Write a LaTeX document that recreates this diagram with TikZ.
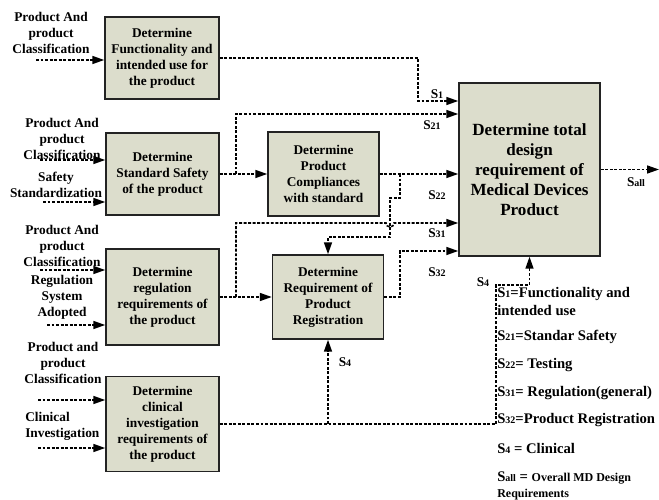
\documentclass[tikz,border=0pt]{standalone}
\usepackage{fontspec}
\setmainfont{Liberation Serif}
\usetikzlibrary{arrows.meta}
\definecolor{boxfill}{RGB}{220,221,204}
\definecolor{boxline}{RGB}{35,35,35}
\newcommand\sbs[1]{{\fontsize{7.5}{8}\selectfont #1}}
\begin{document}
\begin{tikzpicture}[x=0.75pt,y=-0.75pt,
  box/.style={draw=boxline, fill=boxfill, line width=1.1pt, align=center, inner sep=0pt,
    font=\bfseries\fontsize{10}{12}\selectfont},
  conn/.style={line width=1.2pt, dash pattern=on 2.2pt off 1.2pt},
  arr/.style={conn, -{Triangle[length=9pt,width=6pt]}},
  lbl/.style={align=center, inner sep=0pt, font=\bfseries\fontsize{10}{12}\selectfont},
  slbl/.style={inner sep=0pt, font=\bfseries\fontsize{10}{12}\selectfont},
  leg/.style={anchor=west, align=left, inner sep=0pt, font=\bfseries\fontsize{11}{13}\selectfont}]
\useasboundingbox (0,0) rectangle (659,499);

% boxes
\node[box, minimum width=85.5pt, minimum height=61.5pt] (A) at (162,58) {Determine\\Functionality and\\intended use for\\the product};
\node[box, minimum width=84.75pt, minimum height=61.5pt] (B) at (162.5,174) {Determine\\Standard Safety\\of the product};
\node[box, minimum width=83.25pt, minimum height=63pt] (C) at (323.5,174) {Determine\\Product\\Compliances\\with standard};
\node[box, minimum width=84.75pt, minimum height=72pt] (D) at (162.5,297) {Determine\\regulation\\requirements of\\the product};
\node[box, minimum width=83.25pt, minimum height=63pt] (E) at (328,297) {Determine\\Requirement of\\Product\\Registration};
\node[box, minimum width=84.75pt, minimum height=71.25pt] (F) at (162.5,424) {Determine\\clinical\\investigation\\requirements of\\the product};
\node[box, minimum width=105.75pt, minimum height=129.75pt, font=\bfseries\fontsize{12.8}{15}\selectfont] (G) at (529.5,169.5) {Determine total\\design\\requirement of\\Medical Devices\\Product};

% input labels and arrows
\node[lbl] (l1) at (51,33) {Product And\\product\\Classification};
\coordinate (i1) at (36,60);
\draw[arr] (i1) -- (A.west |- i1);

\node[lbl] (l2) at (62,139) {Product And\\product\\Classification};
\coordinate (i2) at (40,160);
\draw[arr] (i2) -- (B.west |- i2);
\node[lbl] (l3) at (56,185) {Safety\\Standardization};
\coordinate (i3) at (43,202);
\draw[arr] (i3) -- (B.west |- i3);

\node[lbl] (l4) at (62,246) {Product And\\product\\Classification};
\coordinate (i4) at (40,270);
\draw[arr] (i4) -- (D.west |- i4);
\node[lbl] (l5) at (62,297) {Regulation\\System\\Adopted};
\coordinate (i5) at (47,325);
\draw[arr] (i5) -- (D.west |- i5);

\node[lbl] (l6) at (63,363) {Product and\\product\\Classification};
\coordinate (i6) at (38,400);
\draw[arr] (i6) -- (F.west |- i6);
\node[lbl, anchor=west, align=left] (l7) at (25,426) {Clinical\\Investigation};
\coordinate (i7) at (38,448);
\draw[arr] (i7) -- (F.west |- i7);

% connectors
\coordinate (s1) at (459,101);
\draw[arr] (A.east) -| (418,101) -- (G.west |- s1);

\draw[arr] (B.east) -- (C.west);
\coordinate (s21) at (459,114);
\draw[arr] (236,174) -- (236,114) -- (G.west |- s21);

\draw[arr] (C.east) -- (G.west |- C.east);
\draw[arr] (400,174) -- (400,198) -- (390,198) -- (390,237) -- (328,237) -- (E.north);

\draw[arr] (D.east) -- (E.west);
\coordinate (s31) at (459,223);
\draw[arr] (236,297) -- (236,223) -- (386,223) arc[start angle=180, end angle=0, radius=4] -- (G.west |- s31);

\coordinate (s32) at (459,251);
\draw[arr] (E.east) -- (400,297) -- (400,251) -- (G.west |- s32);

\draw[arr] (F.east) -- (496,424) -- (496,285) -- (G.south |- 0,285) -- (G.south);
\draw[arr] (E.south |- F.east) -- (E.south);

\coordinate (sout) at (659,169.5);
\draw[arr] (G.east) -- (sout);

% signal labels
\node[slbl] (t1) at (437,94) {S\sbs{1}};
\node[slbl] (t21) at (432,125) {S\sbs{21}};
\node[slbl] (t22) at (437,195) {S\sbs{22}};
\node[slbl] (t31) at (437,233) {S\sbs{31}};
\node[slbl] (t32) at (437,272) {S\sbs{32}};
\node[slbl] (t4a) at (483,282) {S\sbs{4}};
\node[slbl] (t4b) at (345,362) {S\sbs{4}};
\node[slbl] (tall) at (636,182) {S\sbs{all}};

% legend
\node[leg] (g1) at (497,301.5) {S\sbs{1}=Functionality and\\intended use};
\node[leg] (g2) at (497,337) {S\sbs{21}=Standar Safety};
\node[leg] (g3) at (497,365) {S\sbs{22}= Testing};
\node[leg] (g4) at (497,393) {S\sbs{31}= Regulation(general)};
\node[leg] (g5) at (497,420) {S\sbs{32}=Product Registration};
\node[leg] (g6) at (497,448) {S\sbs{4} = Clinical};
\node[leg] (g7) at (497,478) {S\sbs{all} = {\fontsize{9}{10}\selectfont Overall MD Design}};
\node[leg, font=\bfseries\fontsize{9}{10}\selectfont] (g8) at (497,495) {Requirements};
\end{tikzpicture}
\end{document}
